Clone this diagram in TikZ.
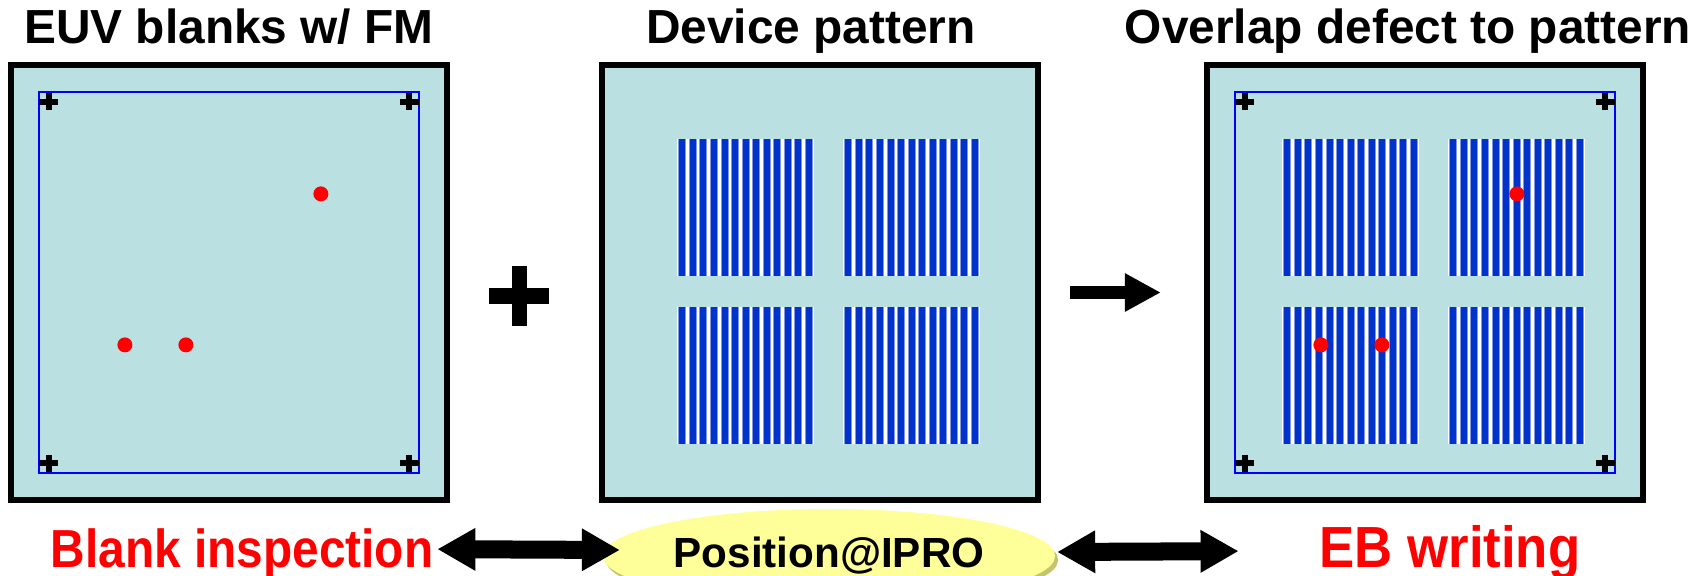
\documentclass[tikz,border=0pt]{standalone}
\usepackage{fontspec}
\setmainfont{Liberation Sans}
\usepackage{tikz}
\usetikzlibrary{arrows.meta, positioning, calc, shapes.geometric, shadows}
\definecolor{blankcyan}{RGB}{186,224,226}
\definecolor{fmblue}{RGB}{0,0,255}
\definecolor{lineblue}{RGB}{0,51,204}
\definecolor{lineedge}{RGB}{130,150,230}
\definecolor{iproyellow}{RGB}{255,255,153}
\definecolor{iproshadow}{RGB}{196,196,110}
\definecolor{defectred}{RGB}{255,0,0}

\begin{document}
\begin{tikzpicture}[x=0.01cm, y=-0.01cm, every node/.style={inner sep=0.02cm, outer sep=0pt},
  plate/.style={draw, line width=0.06cm, fill=blankcyan, minimum width=4.36cm, minimum height=4.35cm},
  fmframe/.style={draw=fmblue, line width=0.45pt, minimum width=3.80cm, minimum height=3.81cm},
  headline/.style={font=\fontsize{13.6}{16}\selectfont\bfseries, anchor=base},
  redlabel/.style={text=defectred, font=\fontsize{13.6}{16}\selectfont\bfseries, anchor=base},
  fmcross/.style={line width=0.055cm},
  dblarrow/.style={line width=0.18cm, {Triangle[length=0.38cm, width=0.40cm]}-{Triangle[length=0.38cm, width=0.40cm]}}]
  \useasboundingbox (0,0) rectangle (1706,576);

  % Titles
  \node[headline] (blanktitle) at (229,44) {EUV blanks w/ FM};
  \node[headline] (devtitle) at (811,44) {Device pattern};
  \node[headline] (overtitle) at (1408,44) {Overlap defect to pattern};

  % Plates
  \node[plate] (blank) at (229,282.5) {};
  \node[plate] (dev) at (820,282.5) {};
  \node[plate] (over) at (1425,282.5) {};

  % FM frames
  \node[fmframe] (blankfm) at (blank) {};
  \node[fmframe] (overfm) at (over) {};

  % Line/space patterns
  \foreach \pl in {dev, over} {
    \foreach \dx/\dy in {75/74, 241/74, 75/242, 241/242} {
      \coordinate (patch) at ($(\pl.north west)+(\dx,\dy)$);
      \fill[white] (patch) rectangle ++(137,137);
      \foreach \i in {0,...,12} {
        \fill[lineedge] ($(patch)+(1.5+\i*10.55,0)$) rectangle ++(8,137);
        \fill[lineblue] ($(patch)+(2.5+\i*10.55,0)$) rectangle ++(6,137);
      }
    }
  }

  % Fiducial marks
  \foreach \pl in {blankfm, overfm} {
    \foreach \c/\sx/\sy in {north west/1/1, north east/-1/1, south west/1/-1, south east/-1/-1} {
      \draw[fmcross] ($(\pl.\c)+(\sx*10,\sy*10)$) +(-9.5,0) -- +(9.5,0) +(0,-8.5) -- +(0,8.5);
    }
  }

  % Defects
  \foreach \pl in {blank, over} {
    \fill[defectred] ($(\pl.north west)+(310,129)$) circle[radius=7.5];
    \fill[defectred] ($(\pl.north west)+(114,280)$) circle[radius=7.5];
    \fill[defectred] ($(\pl.north west)+(175,280)$) circle[radius=7.5];
  }

  % Plus and arrow
  \coordinate (plus) at (519,296);
  \draw[line width=0.15cm] (plus) +(-30,0) -- +(30,0) +(0,-30) -- +(0,30);
  \draw[line width=0.13cm, -{Triangle[length=0.36cm, width=0.36cm]}, shorten <=0.32cm, shorten >=0.46cm]
    ([yshift=-0.1cm]dev.east) -- ([yshift=-0.1cm]over.west);

  % Bottom row
  \node[ellipse, fill=iproyellow, minimum width=4.52cm, minimum height=0.94cm,
    font=\fontsize{12}{14}\selectfont\bfseries,
    drop shadow={shadow xshift=0.03cm, shadow yshift=-0.04cm, fill=iproshadow, opacity=1}] (ipro) at (829,556) {Position@IPRO};
  \node[redlabel] (insp) at (242,567) {\scalebox{1}[1.12]{Blank inspection}};
  \node[redlabel, font=\fontsize{15}{18}\selectfont\bfseries] (ebw) at (1450,567) {\scalebox{1}[1.1]{EB writing}};

  \draw[dblarrow] ($(insp.east)+(2,-4)$) -- ($(ipro.west)+(17,-6)$);
  \draw[dblarrow] ($(ipro.east)+(2,-4)$) -- ($(ebw.west)+(-79,-1)$);
\end{tikzpicture}
\end{document}
